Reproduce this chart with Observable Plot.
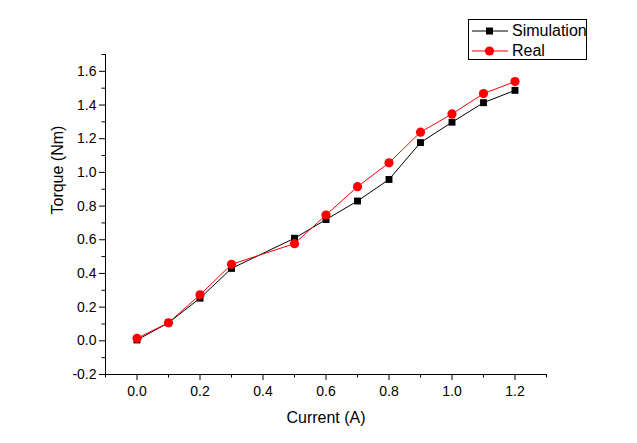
<!DOCTYPE html>
<html>
<head>
<meta charset="utf-8">
<script src="https://cdn.jsdelivr.net/npm/d3@7"></script>
<script src="https://cdn.jsdelivr.net/npm/@observablehq/plot@0.6"></script>
<style>
  html, body { margin: 0; padding: 0; background: #fff; }
  #wrap { position: relative; width: 637px; height: 443px; font-family: "Liberation Sans", Arial, sans-serif; }
  #legend { position: absolute; left: 468px; top: 19px; width: 117px; height: 39px; border: 1px solid #000; background: #fff; }
  .row { position: absolute; left: 0; height: 20px; display: flex; align-items: center; font-size: 16px; color: #000; }
  .row svg { display: block; margin-left: 3px; margin-right: 4px; }
</style>
</head>
<body>
<div id="wrap"></div>
<script>
const currents = [0, 0.1, 0.2, 0.3, 0.5, 0.6, 0.7, 0.8, 0.9, 1.0, 1.1, 1.2];
const simulation = [0.005, 0.107, 0.253, 0.43, 0.609, 0.72, 0.83, 0.958, 1.177, 1.298, 1.414, 1.487];
const real = [0.015, 0.107, 0.273, 0.454, 0.577, 0.747, 0.915, 1.057, 1.239, 1.347, 1.468, 1.539];
const seriesNames = ["Simulation", "Real"];
const xTicks = [0, 0.2, 0.4, 0.6, 0.8, 1.0, 1.2];
const xMinor = [-0.1, 0.1, 0.3, 0.5, 0.7, 0.9, 1.1, 1.3];
const yTicks = [-0.2, 0, 0.2, 0.4, 0.6, 0.8, 1.0, 1.2, 1.4, 1.6];
const yMinor = [-0.1, 0.1, 0.3, 0.5, 0.7, 0.9, 1.1, 1.3, 1.5, 1.7];
const xLabel = "Current (A)";
const yLabel = "Torque (Nm)";

const sim = currents.map((c, i) => ({x: c, y: simulation[i]}));
const rl = currents.map((c, i) => ({x: c, y: real[i]}));
const fmt = d => d.toFixed(1);

const chart = Plot.plot({
  width: 637,
  height: 443,
  marginLeft: 105,
  marginRight: 91,
  marginTop: 54,
  marginBottom: 69,
  style: {background: "#fff", color: "#000", fontFamily: "'Liberation Sans', Arial, sans-serif", fontSize: "14px"},
  x: {domain: [-0.1, 1.3], label: null},
  y: {domain: [-0.2, 1.7], label: null},
  marks: [
    Plot.ruleX([-0.1], {stroke: "#000", strokeWidth: 1}),
    Plot.ruleY([-0.2], {stroke: "#000", strokeWidth: 1}),
    Plot.axisX(xTicks, {tickSize: 6, tickPadding: 6, tickFormat: fmt, fontSize: 14, label: null}),
    Plot.axisX(xMinor, {tickSize: 3.5, tickFormat: () => "", label: null}),
    Plot.axisY(yTicks, {tickSize: 6, tickPadding: 3, tickFormat: fmt, fontSize: 14, label: null}),
    Plot.axisY(yMinor, {tickSize: 3.5, tickFormat: () => "", label: null}),
    Plot.text([xLabel], {frameAnchor: "bottom", dy: 48, fontSize: 16, fill: "#000"}),
    Plot.text([yLabel], {frameAnchor: "left", dx: -48, rotate: -90, fontSize: 16, fill: "#000"}),
    Plot.line(sim, {x: "x", y: "y", stroke: "#000", strokeWidth: 1}),
    Plot.dot(sim, {x: "x", y: "y", symbol: "square", r: 3.9, fill: "#000", stroke: "none"}),
    Plot.line(rl, {x: "x", y: "y", stroke: "#ff0000", strokeWidth: 1}),
    Plot.dot(rl, {x: "x", y: "y", symbol: "circle", r: 4.6, fill: "#ff0000", stroke: "none"})
  ]
});

const wrap = document.getElementById("wrap");
wrap.appendChild(chart);

const legend = document.createElement("div");
legend.id = "legend";
const styles = [
  {stroke: "#000", marker: '<rect x="14" y="6.5" width="7" height="7" fill="#000"/>'},
  {stroke: "#ff0000", marker: '<circle cx="17.5" cy="10" r="4.6" fill="#ff0000"/>'}
];
seriesNames.forEach((name, i) => {
  const row = document.createElement("div");
  row.className = "row";
  row.style.top = (1 + i * 20) + "px";
  row.innerHTML = `<svg width="36" height="20"><line x1="0" x2="36" y1="10" y2="10" stroke="${styles[i].stroke}" stroke-width="1"/>${styles[i].marker}</svg><span>${name}</span>`;
  legend.appendChild(row);
});
wrap.appendChild(legend);
</script>
</body>
</html>
